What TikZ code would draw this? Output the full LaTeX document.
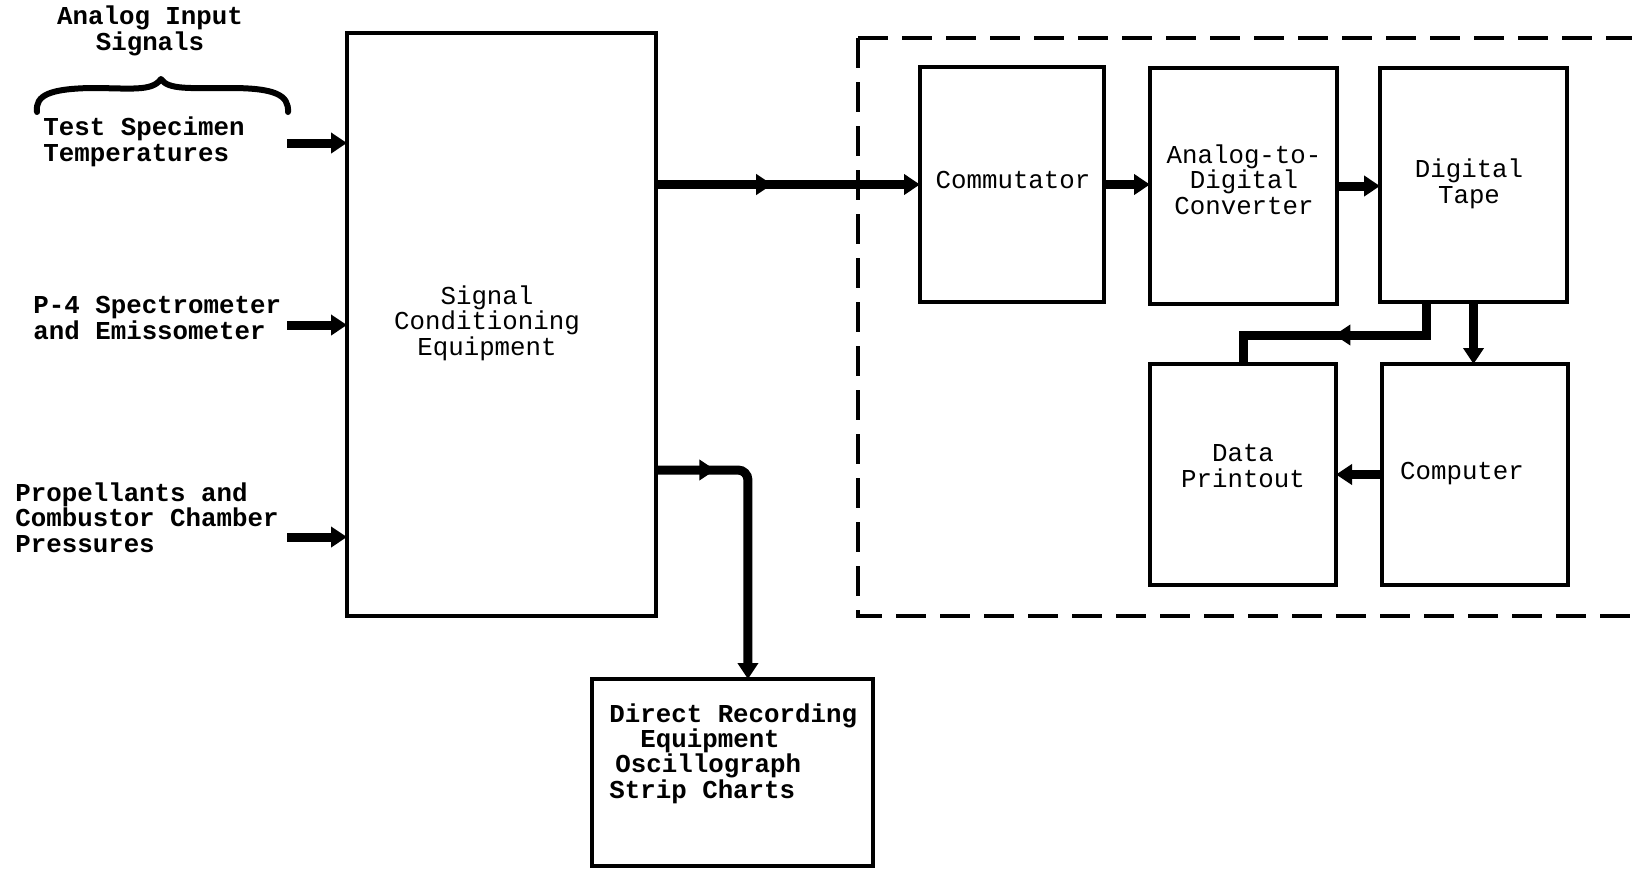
\documentclass[tikz,border=0pt]{standalone}
\usepackage{fontspec}
\setmonofont{Liberation Mono}
\usetikzlibrary{arrows.meta,decorations.markings,calc}
\begin{document}
\begin{tikzpicture}[x=0.5pt,y=-0.5pt,
  box/.style={draw,line width=2pt,inner sep=0pt,outer sep=0pt},
  lbl/.style={font=\ttfamily\fontsize{12.9}{12.6}\selectfont,inner sep=0pt,align=center},
  blbl/.style={lbl,font=\ttfamily\bfseries\fontsize{12.9}{12.6}\selectfont},
  conn/.style={line width=4.5pt},
  flow/.style={conn,-{Triangle[length=8pt,width=10pt]}},
  midarrow/.style={postaction={decorate},decoration={markings,mark=at position #1 with {\arrow{Triangle[length=8pt,width=10pt]}}}},
  dashedline/.style={line width=2pt,dash pattern=on 15pt off 7pt}
]
\useasboundingbox (0,0) rectangle (1632,868);

% boxes
\node[box,minimum width=154.5pt,minimum height=291.5pt] (sig) at (501.5,324.5) {};
\node[box,minimum width=92pt,minimum height=117.5pt] (comm) at (1012,184.5) {};
\node[box,minimum width=93.5pt,minimum height=118pt] (adc) at (1243.5,186) {};
\node[box,minimum width=93.5pt,minimum height=117pt] (tape) at (1473.5,185) {};
\node[box,minimum width=93pt,minimum height=110.5pt] (prn) at (1243,474.5) {};
\node[box,minimum width=93pt,minimum height=110.5pt] (comp) at (1475,474.5) {};
\node[box,minimum width=140.5pt,minimum height=93.5pt] (drec) at (732.5,772.5) {};

% dashed enclosure
\draw[dashedline] (858,38) -- (1632,38);
\draw[dashedline] (858,38) -- (858,616) -- (1632,616);

% labels (base anchor = baseline of last line)
\node[blbl,anchor=base] (tAnalog) at (150,50) {Analog Input\\Signals};
\node[blbl,anchor=base west,align=left] (tTest) at (43,161) {Test Specimen\\Temperatures};
\node[blbl,anchor=base west,align=left] (tP4) at (33,339) {P-4 Spectrometer\\and Emissometer};
\node[blbl,anchor=base west,align=left] (tProp) at (15,552) {Propellants and\\Combustor Chamber\\Pressures};
\node[lbl,anchor=base] (tSig) at (487,355) {Signal\\Conditioning\\Equipment};
\node[lbl,anchor=base] (tComm) at (1013,188) {Commutator};
\node[lbl,anchor=base] (tAdc) at (1244,214) {Analog-to-\\Digital\\Converter};
\node[lbl,anchor=base] (tTape) at (1469,203) {Digital\\Tape};
\node[lbl,anchor=base] (tPrn) at (1243,487) {Data\\Printout};
\node[lbl,anchor=base] (tComp) at (1462,479) {Computer};
\node[blbl,anchor=base west,align=left] (tDrec) at (609,798) {Direct Recording\\\hspace*{15.5pt}Equipment\\\hspace*{3pt}Oscillograph\\Strip Charts};

% brace
\draw[line width=3pt,line cap=round,line join=round]
  (37,112) .. controls (35,95) and (50,89) .. (90,88)
  .. controls (130,88) and (152,92) .. (161,79)
  .. controls (168,90) and (190,88) .. (230,88)
  .. controls (275,88) and (289,95) .. (288,112);

% inputs
\coordinate (in1) at (287,143);
\coordinate (in2) at (287,325);
\coordinate (in3) at (287,537);
\draw[flow] (in1) -- (in1 -| sig.west);
\draw[flow] (in2) -- (in2 -| sig.west);
\draw[flow] (in3) -- (in3 -| sig.west);

% connectors
\draw[flow,midarrow=0.44] (sig.east |- comm.west) -- (comm.west);
\draw[flow] (comm.east) -- (comm.east -| adc.west);
\draw[flow] (adc.east) -- (adc.east -| tape.west);
\draw[conn,midarrow=0.51] ($(tape.south west)!0.25!(tape.south east)$) -- ++(0,33) -| (prn.north);
\draw[flow] (tape.south) -- (tape.south |- comp.north);
\draw[flow] (comp.west) -- (comp.west -| prn.east);
\draw[flow,midarrow=0.2,rounded corners=5pt] ($(sig.east)+(0,145.5)$) -| ($(drec.north west)!0.555!(drec.north east)$);
\end{tikzpicture}
\end{document}
